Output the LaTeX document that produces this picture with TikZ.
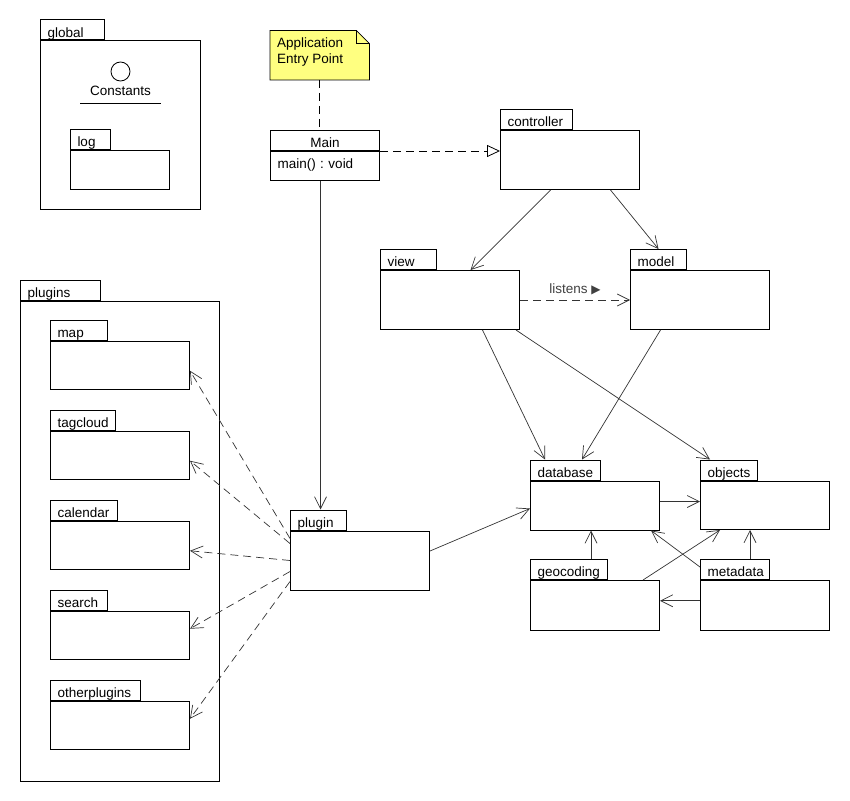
\documentclass[tikz,border=0pt]{standalone}
\usepackage{fontspec}
\setmainfont{Liberation Sans}
\newfontfamily\symfont{DejaVu Sans}
\usetikzlibrary{arrows.meta,backgrounds}
\definecolor{notefill}{RGB}{255,255,128}
\frenchspacing

% package: name, label, x, y of tab top, tab width, body width, body height
\newcommand\umlpkg[7]{%
  \node[pkgbody, minimum width=#6pt, minimum height=#7pt] (#1) at (#3,#4+20) {};
  \node[pkgtab, minimum width=#5pt, text width=#5pt] (#1tab) at (#1.north west) {\hspace*{7pt}#2};
}

\begin{document}
\begin{tikzpicture}[x=1pt,y=-1pt,
  font=\fontsize{13.5}{15}\selectfont,
  pkgbody/.style={draw, line width=1pt, fill=white, inner sep=0pt, anchor=north west},
  pkgtab/.style={draw, line width=1pt, fill=white, inner sep=0pt, anchor=south west,
    minimum height=20pt, align=left, text height=14.6pt, text depth=0pt},
  edge/.style={draw=black!80, line width=0.7pt, -{Straight Barb[length=12pt,width=12pt]}},
  depend/.style={edge, dash pattern=on 8pt off 5pt},
  realize/.style={draw=black, line width=0.8pt, dash pattern=on 8pt off 5pt,
    -{Triangle[open,length=13pt,width=12pt]}},
  notelink/.style={draw=black, line width=0.8pt, dash pattern=on 8pt off 5pt},
]
\path[use as bounding box] (0,0) rectangle (850,800);

% ---- global package ----
\umlpkg{global}{global}{40}{20.5}{64}{160}{168}
\node[circle, draw, line width=0.8pt, minimum size=19pt, inner sep=0pt] (constcircle) at (120.5,71.5) {};
\node[anchor=base, inner sep=0pt] (constants) at (120.5,95) {Constants};
\draw[line width=1pt] ([shift={(-40.5,8)}]constants.base) -- ++(81,0);
\umlpkg{log}{log}{70}{130}{40}{99}{38.5}

% ---- note and Main class ----
\node[anchor=north west, minimum width=99pt, minimum height=49pt, inner sep=0pt] (note) at (270,30.5) {};
\node[anchor=north west, align=left, inner sep=0pt, font=\fontsize{13.5}{16.6}\selectfont]
  (notetext) at ([shift={(7,6.8)}]note.north west) {Application\\Entry Point};
\begin{scope}[on background layer]
  \draw[fill=notefill, line width=0.8pt] (note.north west) -- ([xshift=-13pt]note.north east)
    -- ([yshift=-13pt]note.north east) -- (note.south east) -- (note.south west) -- cycle;
  \draw[line width=0.8pt] ([xshift=-13pt]note.north east) -- ++(0,13) -- ([yshift=-13pt]note.north east);
\end{scope}

\node[pkgbody, minimum width=109pt, minimum height=20pt, text height=14.6pt, text depth=0pt]
  (mainhead) at (270,130) {Main};
\node[pkgbody, minimum width=109pt, minimum height=29pt, text width=109pt, align=left,
  text height=9.5pt, text depth=5.1pt] (mainbody) at (mainhead.south west) {\hspace*{7pt}main() : void};

% ---- MVC packages ----
\umlpkg{controller}{controller}{500}{110}{72}{139}{59}
\umlpkg{view}{view}{380}{250}{56}{139}{59}
\umlpkg{model}{model}{630}{250}{56}{139}{59}

% ---- plugins package ----
\umlpkg{plugins}{plugins}{20}{280.5}{80}{199}{480}
\umlpkg{map}{map}{50}{320.5}{57}{139}{48.5}
\umlpkg{tagcloud}{tagcloud}{50}{410.5}{65}{139}{48.5}
\umlpkg{calendar}{calendar}{50}{500.5}{67}{139}{48.5}
\umlpkg{search}{search}{50}{590.5}{57}{139}{48.5}
\umlpkg{otherplugins}{otherplugins}{50}{680.5}{90}{139}{48.5}

\umlpkg{plugin}{plugin}{290}{510.5}{56}{139}{59}

% ---- data packages ----
\umlpkg{database}{database}{530}{460.5}{70}{129}{49}
\umlpkg{objects}{objects}{700}{460.5}{57}{129}{48.5}
\umlpkg{geocoding}{geocoding}{530}{560}{77}{129}{49.5}
\umlpkg{metadata}{metadata}{700}{560}{69}{129}{49.5}

% ---- connectors ----
\draw[notelink] (note.south) -- (note.south |- mainhead.north);
\draw[realize] (mainhead.south east) -- (mainhead.south east -| controller.west);
\draw[edge] ([xshift=-4.5pt]mainbody.south) -- ([xshift=-4.5pt]mainbody.south |- plugintab.north);

\draw[edge] ([xshift=-19.5pt]controller.south) -- ([xshift=20.5pt]view.north);
\draw[edge] ([xshift=40.5pt]controller.south) -- (modeltab.north);
\draw[depend] (view.east) -- node[above=1pt, text=black!75] (listens) {listens {\symfont\fontsize{12}{12}\selectfont▶}} (model.west);

\draw[edge] ([xshift=32.5pt]view.south) -- ([xshift=15pt]databasetab.north west);
\draw[edge] ([xshift=-4pt]view.south east) -- ([xshift=10pt]objectstab.north west);
\draw[edge] ([xshift=-39.5pt]model.south) -- ([xshift=52pt]databasetab.north west);

\draw[edge] ([yshift=9.5pt]plugin.east) -- ([yshift=-3pt]database.west);
\draw[edge] ([yshift=4pt]database.east) -- ([yshift=4pt]database.east -| objects.west);
\draw[edge] ([xshift=61pt]geocodingtab.north west) -- ([xshift=61pt]geocodingtab.north west |- database.south);
\draw[edge] ([xshift=50pt]metadatatab.north west) -- ([xshift=50pt]metadatatab.north west |- objects.south);
\draw[edge] ([yshift=4.5pt]metadata.west) -- ([yshift=4.5pt]metadata.west -| geocoding.east);
\draw[edge] ([yshift=-8pt]metadatatab.north west) -- ([xshift=-9pt]database.south east);
\draw[edge] ([xshift=-17pt]geocoding.north east) -- ([xshift=20pt]objects.south west);

\draw[depend] ([yshift=-8pt]plugin.north west) -- ([yshift=-5.5pt]map.east);
\draw[depend] ([yshift=-13pt]plugin.north west) -- ([yshift=-5.5pt]tagcloud.east);
\draw[depend] ([yshift=-30pt]plugin.north west) -- ([yshift=-5.5pt]calendar.east);
\draw[depend] ([yshift=-41pt]plugin.north west) -- ([yshift=6.5pt]search.east);
\draw[depend] ([yshift=-51pt]plugin.north west) -- ([yshift=6.5pt]otherplugins.east);
\end{tikzpicture}
\end{document}
